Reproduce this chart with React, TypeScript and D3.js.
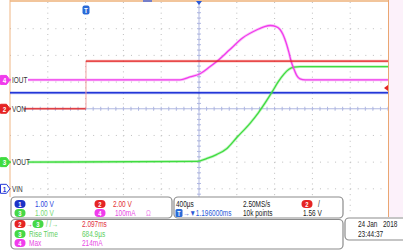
import React from 'react';
import * as d3 from 'd3';

const W = 403;
const H = 250;

// Time axis (ms relative to trigger), 400 µs/div, 10 divisions
const timeDomain = [-0.804, 3.196];
const timePerDiv = 0.4;

// CH1 VIN (V)
const vinT = [-0.804, 3.196];
const vinV = [3.6, 3.6];
// CH2 VON (V)
const vonT = [-0.804, 0, 0, 3.196];
const vonV = [0, 0, 3.57, 3.57];
// CH3 VOUT (V)
const voutT = [-0.804, 1.175, 1.281, 1.386, 1.492, 1.598, 1.736, 1.82, 1.894, 1.968, 2.032, 2.095, 2.148, 2.201, 2.265, 3.196];
const voutV = [0, 0.03, 0.14, 0.29, 0.515, 0.93, 1.455, 1.83, 2.21, 2.62, 3.0, 3.3, 3.48, 3.56, 3.58, 3.58];
// CH4 IOUT (mA)
const ioutT = [-0.804, 0.995, 1.1, 1.207, 1.31, 1.39, 1.52, 1.66, 1.81, 1.89, 1.95, 2.011, 2.053, 2.085, 2.117, 2.148, 2.17, 2.2, 2.233, 2.265, 2.32, 3.196];
const ioutV = [0, 0, 11, 23, 49, 71, 113, 158, 188, 200, 204, 200, 189, 170, 140, 102, 71, 41, 15, 4, 0, 0];

// Channel settings
const chNames = ['VIN', 'VON', 'VOUT', 'IOUT'];
const chColors = ['#2236d8', '#e52424', '#3fdc3f', '#f03cec'];
const chScale = [1, 2, 1, 100]; // units per division
const chOffset = [-3, 0, -2, 1.08]; // ground position in divisions from centre

const font = "'Liberation Sans', Arial, sans-serif";
const SX = 0.78;

const X0 = 10, X1 = 388, Y0 = 2, Y1 = 215.5;

export default function App() {
  const x = d3.scaleLinear().domain(timeDomain).range([X0, X1]);
  const yDiv = d3.scaleLinear().domain([-4, 4]).range([Y1, Y0]);
  const yCh = (ch: number) => (v: number) => yDiv(chOffset[ch] + v / chScale[ch]);

  const xTicks = d3.range(0, 11).map(i => x(timeDomain[0] + i * timePerDiv));
  const yTicks = d3.range(-4, 5).map(d => yDiv(d));
  const cx = x(timeDomain[0] + 5 * timePerDiv);
  const cy = yDiv(0);
  const minorX = d3.range(0, 51).map(i => x(timeDomain[0] + i * timePerDiv / 5));
  const minorY = d3.range(0, 41).map(i => yDiv(-4 + i / 5));

  const mkLine = (ts: number[], vs: number[], ch: number, curve: any = d3.curveMonotoneX) =>
    d3.line<number>().x((_, i) => x(ts[i])).y((v) => yCh(ch)(v)).curve(curve)(vs) || '';

  const traces = [
    { ch: 0, d: mkLine(vinT, vinV, 0, d3.curveLinear) },
    { ch: 2, d: mkLine(voutT, voutV, 2) },
    { ch: 3, d: mkLine(ioutT, ioutV, 3) },
  ];

  const vonSegs = vonT.slice(1).map((t, i) => ({
    x1: x(vonT[i]), y1: yCh(1)(vonV[i]), x2: x(t), y2: yCh(1)(vonV[i + 1]), vertical: t === vonT[i],
  }));

  const txt = (s: string, tx: number, ty: number, fill: string, size = 8.3, weight = 'normal', anchor = 'start') => (
    <text transform={`translate(${tx},${ty}) scale(${SX},1)`} fontSize={size} fill={fill} fontFamily={font}
      fontWeight={weight} textAnchor={anchor}>{s}</text>
  );

  const tag = (ch: number, yy: number) => {
    const outline = ch === 0;
    return (
      <g key={'tag' + ch}>
        <path d={`M0.5,${yy - 4.5} H6.5 L10,${yy} L6.5,${yy + 4.5} H0.5 Z`}
          fill={outline ? '#fff' : chColors[ch]} stroke={chColors[ch]} strokeWidth={1} />
        {txt(String(ch + 1), 4.5, yy + 3, outline ? chColors[ch] : '#fff', 8, 'bold', 'middle')}
        <rect x={11} y={yy - 4.5} width={ch === 1 ? 13 : 17} height={9} fill="#fff" />
        {txt(chNames[ch], 12, yy + 3, '#333', 8.3)}
      </g>
    );
  };

  const badge = (ch: number, bx: number, by: number, color?: string) => (
    <g key={`b${ch}-${bx}-${by}`}>
      <rect x={bx - 5.5} y={by - 4} width={11} height={8} rx={4} fill={color || chColors[ch]} />
      {txt(String(ch + 1), bx, by + 3, '#fff', 7.5, 'bold', 'middle')}
    </g>
  );

  return (
    <svg width={W} height={H} style={{ position: 'absolute', left: 0, top: 0, background: '#fff' }}>
      <rect x={0} y={0} width={W} height={H} fill="#fff" />
      <rect x={389} y={0} width={14} height={217} fill="#fcf1fa" />

      {/* dotted graticule */}
      {xTicks.slice(1, -1).map((gx, i) => (
        <line key={'gx' + i} x1={gx} x2={gx} y1={Y0} y2={Y1} stroke="#bdbdbd" strokeWidth={1}
          strokeDasharray={`1 ${(yDiv(0) - yDiv(0.2)) - 1}`} />
      ))}
      {yTicks.slice(1, -1).map((gy, i) => (
        <line key={'gy' + i} x1={X0} x2={X1} y1={gy} y2={gy} stroke="#bdbdbd" strokeWidth={1}
          strokeDasharray={`1 ${(x(timePerDiv / 5) - x(0)) - 1}`} />
      ))}

      {/* centre axes with minor ticks */}
      <line x1={X0} x2={X1} y1={cy} y2={cy} stroke="#b0b8e2" strokeWidth={1} />
      <line x1={cx} x2={cx} y1={Y0} y2={Y1} stroke="#b0b8e2" strokeWidth={1} />
      {minorX.map((mx, i) => (
        <line key={'mx' + i} x1={mx} x2={mx} y1={cy - 2} y2={cy + 2} stroke="#b0b8e2" strokeWidth={1} />
      ))}
      {minorY.map((my, i) => (
        <line key={'my' + i} x1={cx - 2} x2={cx + 2} y1={my} y2={my} stroke="#b0b8e2" strokeWidth={1} />
      ))}

      {/* frame */}
      <line x1={X0} x2={X1} y1={1} y2={1} stroke="#eeb27a" strokeWidth={1.5} />
      <line x1={143} x2={152} y1={1} y2={1} stroke="#4a66d8" strokeWidth={1.5} />
      <line x1={X0} x2={X0} y1={0} y2={197} stroke="#f0b684" strokeWidth={1} />
      <line x1={388.5} x2={388.5} y1={0} y2={217} stroke="#eaa672" strokeWidth={1} />

      {/* traces */}
      {traces.map(t => (
        <g key={'tr' + t.ch}>
          <path d={t.d} fill="none" stroke={chColors[t.ch]} strokeOpacity={0.3} strokeWidth={2.8} />
          <path d={t.d} fill="none" stroke={chColors[t.ch]} strokeWidth={1.3} />
        </g>
      ))}
      {vonSegs.map((s, i) => s.vertical ? (
        <line key={'von' + i} x1={s.x1} x2={s.x2} y1={s.y1} y2={s.y2} stroke="#f2a0a0" strokeWidth={1} />
      ) : (
        <g key={'von' + i}>
          <line x1={s.x1} x2={s.x2} y1={s.y1} y2={s.y2} stroke={chColors[1]} strokeOpacity={0.3} strokeWidth={2.6} />
          <line x1={s.x1} x2={s.x2} y1={s.y1} y2={s.y2} stroke={chColors[1]} strokeWidth={1.2} />
        </g>
      ))}

      {/* channel tags */}
      {[3, 1, 2, 0].map(ch => tag(ch, yCh(ch)(0)))}

      {/* trigger markers */}
      <rect x={82.5} y={5.5} width={7} height={9} rx={2} fill="#2a6ad8" />
      {txt('T', 86, 13, '#fff', 8, 'bold', 'middle')}
      <path d={`M${cx - 3},1 L${cx + 3},1 L${cx},5 Z`} fill="#2a5ad8" />
      <path d={`M384,${yCh(1)(1.56)} L388,${yCh(1)(1.56) - 3} L388,${yCh(1)(1.56) + 3} Z`} fill={chColors[1]} />

      {/* bottom readouts */}
      <rect x={11} y={197} width={161} height={21} rx={4} fill="#fff" stroke="#8c8c8c" strokeWidth={1.2} />
      <rect x={174} y={197} width={169} height={21} rx={4} fill="#fff" stroke="#8c8c8c" strokeWidth={1.2} />
      <rect x={11} y={219.5} width={332} height={29.5} rx={4} fill="#fff" stroke="#8c8c8c" strokeWidth={1.2} />
      <rect x={345} y={218} width={62} height={22} rx={4} fill="#fff" stroke="#8c8c8c" strokeWidth={1.2} />

      {badge(0, 20, 204, '#1c33c8')}
      {txt('1.00 V', 35, 207, '#2a46dc')}
      {badge(1, 100, 204)}
      {txt('2.00 V', 113, 207, '#e23030')}
      {badge(2, 20, 213, '#46d846')}
      {txt('1.00 V', 35, 216, '#74d874')}
      {badge(3, 100, 213)}
      {txt('100mA', 115, 216, '#e84ae4')}
      {txt('Ω', 146, 216, '#f090ee')}

      {txt('400µs', 176, 207, '#222')}
      {txt('2.50MS/s', 243, 207, '#222')}
      {badge(1, 307, 204)}
      {txt('/', 318, 207, '#222')}
      <rect x={175.5} y={209} width={7} height={8} rx={1.5} fill="#2a6ad8" />
      {txt('T', 179, 216, '#fff', 7, 'bold', 'middle')}
      {txt('→▼1.196000ms', 183, 216, '#2a5ad8')}
      {txt('10k points', 243, 216, '#222')}
      {txt('1.56 V', 303, 216, '#222')}

      {badge(1, 20, 224)}
      {txt('→', 26, 227, '#e2406a')}
      {badge(2, 38, 224, '#46d846')}
      {txt('/ /→', 46, 227, '#70d070')}
      {txt('2.097ms', 82, 227, '#e23040')}
      {badge(2, 20, 234, '#46d846')}
      {txt('Rise Time', 29, 237, '#62d062')}
      {txt('684.9µs', 82, 237, '#62d062')}
      {badge(3, 20, 243)}
      {txt('Max', 29, 246, '#e84ae4')}
      {txt('214mA', 82, 246, '#e84ae4')}

      {txt('24 Jan', 358, 227, '#222')}
      {txt('2018', 383, 227, '#222')}
      {txt('23:44:37', 358, 237, '#222')}
    </svg>
  );
}
